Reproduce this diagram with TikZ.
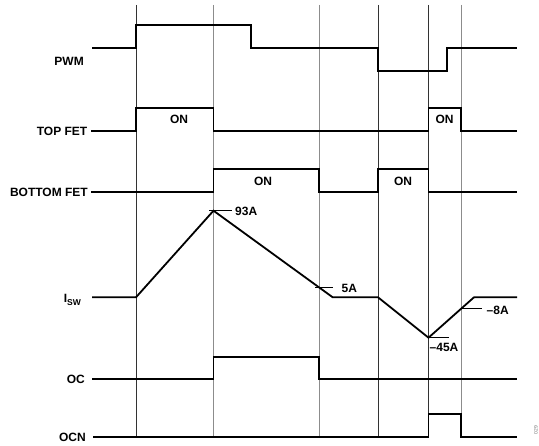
\documentclass[tikz,border=0pt]{standalone}
\usepackage{fontspec}
\setmainfont{Liberation Sans}
\begin{document}
\begin{tikzpicture}[x=1pt,y=-1pt,
  sig/.style={line width=1.8pt, line join=miter},
  gridk/.style={line width=0.8pt, black!80},
  gridg/.style={line width=0.9pt, black!45},
  tickln/.style={line width=0.9pt},
  lbl/.style={font=\fontsize{12}{12}\selectfont\bfseries, inner sep=0pt},
  val/.style={font=\fontsize{12}{12}\selectfont\bfseries, inner sep=0pt, anchor=west},
]
\useasboundingbox (0,0) rectangle (539,446);

% vertical time markers
\draw[gridk] (136,5) -- (136,437);
\draw[gridg] (213.5,5) -- (213.5,437);
\draw[gridg] (319,5) -- (319,437);
\draw[gridk] (378,5) -- (378,437);
\draw[gridk] (428.5,5) -- (428.5,437);
\draw[gridg] (461,5) -- (461,437);

% PWM
\node[lbl, anchor=east] (pwm) at (84,61) {PWM};
\draw[sig] (92,48) -- (136,48) -- (136,25) -- (251,25) -- (251,48) -- (378,48) -- (378,71) -- (447,71) -- (447,48) -- (517,48);

% TOP FET
\node[lbl, anchor=east] (top) at (87.5,131) {TOP FET};
\draw[sig] (91,131) -- (136,131) -- (136,108) -- (213.5,108) -- (213.5,131) -- (428.5,131) -- (428.5,108) -- (461,108) -- (461,131) -- (517,131);
\node[lbl] (on1) at (179,119) {ON};
\node[lbl] (on2) at (444.5,119) {ON};

% BOTTOM FET
\node[lbl, anchor=east] (bot) at (88,192) {BOTTOM FET};
\draw[sig] (91,192) -- (213.5,192) -- (213.5,169) -- (319,169) -- (319,192) -- (378,192) -- (378,169) -- (428.5,169) -- (428.5,192) -- (517,192);
\node[lbl] (on3) at (263,181) {ON};
\node[lbl] (on4) at (403,181) {ON};

% ISW
\node[font=\bfseries, inner sep=0pt, anchor=base east] (isw) at (81,302.5)
  {{\fontsize{12}{12}\selectfont I}\raisebox{-2.6pt}{\fontsize{8.5}{8.5}\selectfont SW}};
\draw[sig] (92,297.3) -- (136,297.3) -- (213.5,210.7) -- (332.7,297.3) -- (378,297.3) -- (428.5,337.7) -- (474,297.3) -- (517,297.3);

\draw[tickln] (209,210.7) -- (232,210.7);
\node[val] (a93) at (235,211) {93A};
\draw[tickln] (315,287.3) -- (333.3,287.3);
\node[val] (a5) at (341.5,288.5) {5A};
\draw[tickln] (428.5,337.7) -- (449.3,337.7);
\node[val] (a45) at (429.5,347) {\textendash45A};
\draw[tickln] (461,308.3) -- (481.7,308.3);
\node[val] (a8) at (486.5,310.5) {\textendash8A};

% OC
\node[lbl, anchor=east] (oc) at (85,379) {OC};
\draw[sig] (92,379.3) -- (213.5,379.3) -- (213.5,356.7) -- (319,356.7) -- (319,379.3) -- (517,379.3);

% OCN
\node[lbl, anchor=east] (ocn) at (86,437) {OCN};
\draw[sig] (93,436.7) -- (428.5,436.7) -- (428.5,414.3) -- (461,414.3) -- (461,436.7) -- (517,436.7);

\node[rotate=90, font=\fontsize{5}{5}\selectfont, text=black!55, inner sep=0pt] (fig) at (536,430) {029};
\end{tikzpicture}
\end{document}
